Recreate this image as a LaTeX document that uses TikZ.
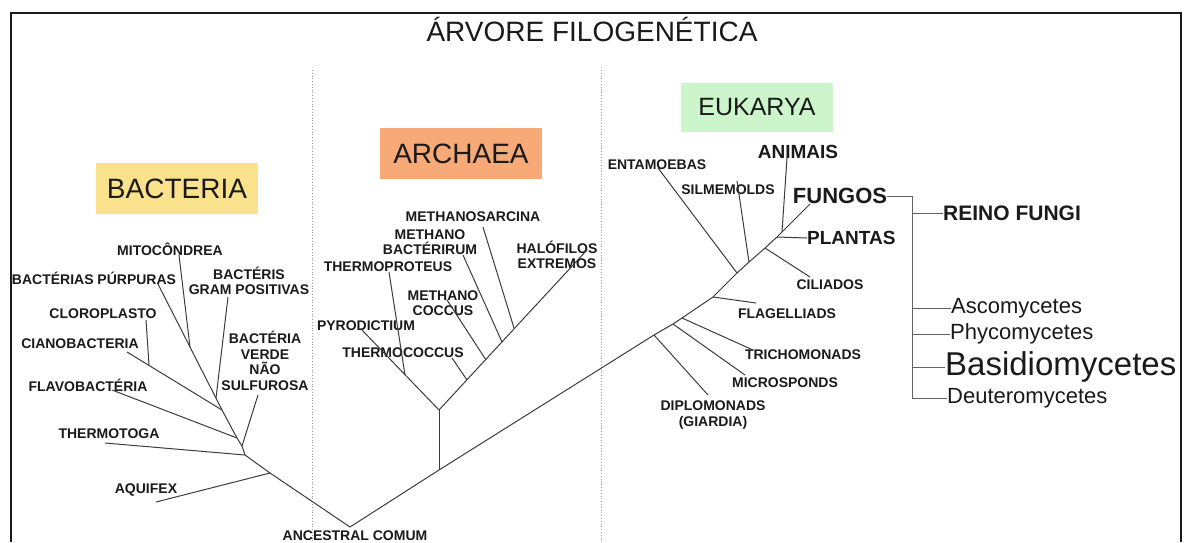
\documentclass[tikz,border=0pt]{standalone}
\usepackage{fontspec}
\setmainfont{Liberation Sans}
\definecolor{bacy}{HTML}{FAE28C}
\definecolor{arco}{HTML}{F7A977}
\definecolor{eukg}{HTML}{CCF5CC}
\definecolor{ink}{HTML}{1A1A1A}
\definecolor{branch}{HTML}{3C3C3C}
\begin{document}
\begin{tikzpicture}[x=1pt,y=-1pt,
  br/.style={draw=branch,line width=1pt},
  fbr/.style={draw=branch!80,line width=1pt},
  lbl/.style={font=\fontsize{14}{15.5}\selectfont\bfseries,inner sep=0pt,align=center,text=ink},
  bigl/.style={font=\fontsize{19}{21}\selectfont\bfseries,inner sep=0pt,text=ink},
  fam/.style={font=\fontsize{22}{24}\selectfont,inner sep=0pt,anchor=west,text=ink},
  dom/.style={font=\fontsize{28}{30}\selectfont,inner sep=0pt,text=ink},
  sep/.style={draw=gray!80,dotted,line width=0.8pt}]
\useasboundingbox (0,0) rectangle (1185,542);
\fill[white] (0,0) rectangle (1185,542);
% frame
\draw[ink,line width=1.6pt] (11,542) -- (11,13) -- (1181,13) -- (1181,542);
\node[font=\fontsize{28}{30}\selectfont,inner sep=0pt,anchor=base,text=ink] (title) at (592,41) {ÁRVORE FILOGENÉTICA};
\draw[sep] (312,70) -- (312,542);
\draw[sep] (601,70) -- (601,542);
% domain boxes
\node[dom,fill=bacy,minimum width=162,minimum height=51] (bac) at (177,188.5) {BACTERIA};
\node[dom,fill=arco,minimum width=162,minimum height=51] (arc) at (461,153.5) {ARCHAEA};
\node[dom,fill=eukg,minimum width=152,minimum height=49,font=\fontsize{25}{27}\selectfont] (euk) at (757,107.5) {EUKARYA};

% ---------- coordinates ----------
\coordinate (root) at (350,527);
% bacteria
\coordinate (b1) at (270,473);
\coordinate (b2) at (245,455);
\coordinate (b3) at (242,446);
\coordinate (b4) at (237,438);
\coordinate (b5) at (222,410);
\coordinate (aqL) at (156,502);
\coordinate (thL) at (105,443);
\coordinate (vdL) at (258,395);
\coordinate (flL) at (112,390);
\coordinate (ciL) at (127,352);
\coordinate (clJ) at (149,365);
\coordinate (clL) at (146,320);
\coordinate (puL) at (158,284);
\coordinate (miJ) at (190,347);
\coordinate (miL) at (179,255);
\coordinate (grJ) at (216,398);
\coordinate (grL) at (228,297);
% archaea
\coordinate (a0) at (439,470);
\coordinate (a1) at (439,410);
\coordinate (tpJ) at (405,375);
\coordinate (pyL) at (362,330);
\coordinate (tpL) at (389,272);
\coordinate (tcJ) at (467,380);
\coordinate (mcJ) at (486,360);
\coordinate (mbJ) at (502,342);
\coordinate (msJ) at (514,328);
\coordinate (haL) at (587,250);
\coordinate (tcL) at (452,358);
\coordinate (mcL) at (447,300);
\coordinate (mbL) at (463,255);
\coordinate (msL) at (483,227);
% eukarya
\coordinate (e1) at (654,335);
\coordinate (e2) at (673,324);
\coordinate (e3) at (682,318);
\coordinate (e4) at (713,297);
\coordinate (e5) at (737,273);
\coordinate (e6) at (749,262);
\coordinate (e7) at (765,248);
\coordinate (e8) at (777,237);
\coordinate (e9) at (782,232);
\coordinate (fuL) at (810,204);
\coordinate (diL) at (708,395);
\coordinate (miLe) at (745,375);
\coordinate (trL) at (753,350);
\coordinate (fgL) at (756,303);
\coordinate (enL) at (658,168);
\coordinate (siL) at (737,181);
\coordinate (ciLe) at (810,277);
\coordinate (anL) at (787,158);
\coordinate (fbot) at (912,398);

% ---------- labels ----------
\node[lbl] (anc) at (355,535.5) {ANCESTRAL COMUM};
% bacteria labels
\node[lbl] (aqu) at (146,490) {AQUIFEX};
\node[lbl] (thm) at (109,434) {THERMOTOGA};
\node[lbl] (vrd) at (265,361) {BACTÉRIA\\VERDE\\NÃO\\SULFUROSA};
\node[lbl] (flv) at (88,385) {FLAVOBACTÉRIA};
\node[lbl] (clo) at (103,314) {CLOROPLASTO};
\node[lbl] (cia) at (80,344) {CIANOBACTERIA};
\node[lbl] (pur) at (94,278) {BACTÉRIAS PÚRPURAS};
\node[lbl] (mit) at (170,249) {MITOCÔNDREA};
\node[lbl] (grm) at (249,281) {BACTÉRIS\\GRAM POSITIVAS};
% archaea labels
\node[lbl] (pyr) at (366,326) {PYRODICTIUM};
\node[lbl] (tpr) at (388,267) {THERMOPROTEUS};
\node[lbl] (tcc) at (403,353) {THERMOCOCCUS};
\node[lbl] (mcc) at (443,303) {METHANO\\COCCUS};
\node[lbl] (mbc) at (430,242) {METHANO\\BACTÉRIRUM};
\node[lbl] (msr) at (473,217) {METHANOSARCINA};
\node[lbl] (hal) at (557,255) {HALÓFILOS\\EXTREMOS};
% eukarya labels
\node[lbl] (ent) at (657,165) {ENTAMOEBAS};
\node[lbl] (sil) at (728,190) {SILMEMOLDS};
\node[bigl] (ani) at (798,152) {ANIMAIS};
\node[bigl,font=\fontsize{22}{24}\selectfont\bfseries] (fun) at (840,196) {FUNGOS};
\node[bigl,anchor=west] (pla) at (807,238) {PLANTAS};
\node[lbl] (cil) at (830,285) {CILIADOS};
\node[lbl] (fla) at (787,314) {FLAGELLIADS};
\node[lbl] (tri) at (803,355) {TRICHOMONADS};
\node[lbl] (mic) at (785,383) {MICROSPONDS};
\node[lbl] (dip) at (713,415) {DIPLOMONADS\\(GIARDIA)};
% fungi
\node[bigl,anchor=west,font=\fontsize{21}{23}\selectfont\bfseries] (rei) at (943,213) {REINO FUNGI};
\node[fam] (asc) at (951,308) {Ascomycetes};
\node[fam] (phy) at (950,334) {Phycomycetes};
\node[fam,font=\fontsize{33}{35}\selectfont] (bas) at (945,367) {Basidiomycetes};
\node[fam] (deu) at (947,398) {Deuteromycetes};

% ---------- branches ----------
% bacteria
\draw[br] (root) -- (b1) -- (b2) -- (b3) -- (b4) -- (b5);
\draw[br] (b1) -- (aqL);
\draw[br] (b2) -- (thL);
\draw[br] (b3) -- (vdL);
\draw[br] (b4) -- (flL);
\draw[br] (b5) -- (ciL);
\draw[br] (clJ) -- (clL);
\draw[br] (b5) -- (puL);
\draw[br] (miJ) -- (miL);
\draw[br] (grJ) -- (grL);
% archaea
\draw[br] (root) -- (a0) -- (e1);
\draw[br] (a0) -- (a1);
\draw[br] (a1) -- (pyL);
\draw[br] (tpJ) -- (tpL);
\draw[br] (a1) -- (haL);
\draw[br] (tcJ) -- (tcL);
\draw[br] (mcJ) -- (mcL);
\draw[br] (mbJ) -- (mbL);
\draw[br] (msJ) -- (msL);
% eukarya
\draw[br] (e1) -- (e2) -- (e3) -- (e4) -- (e5) -- (e6) -- (e7) -- (e8) -- (e9) -- (fuL);
\draw[br] (e1) -- (diL);
\draw[br] (e2) -- (miLe);
\draw[br] (e3) -- (trL);
\draw[br] (e4) -- (fgL);
\draw[br] (e5) -- (enL);
\draw[br] (e6) -- (siL);
\draw[br] (e7) -- (ciLe);
\draw[br] (e8) -- (pla.west);
\draw[br] (e9) -- (anL);
% fungi bracket
\draw[fbr] (fun.east) -| (fbot) -- (deu.west);
\draw[fbr] (fbot |- rei.west) -- (rei.west);
\draw[fbr] (fbot |- asc.west) -- (asc.west);
\draw[fbr] (fbot |- phy.west) -- (phy.west);
\draw[fbr] (fbot |- bas.west) -- (bas.west);
\end{tikzpicture}
\end{document}
